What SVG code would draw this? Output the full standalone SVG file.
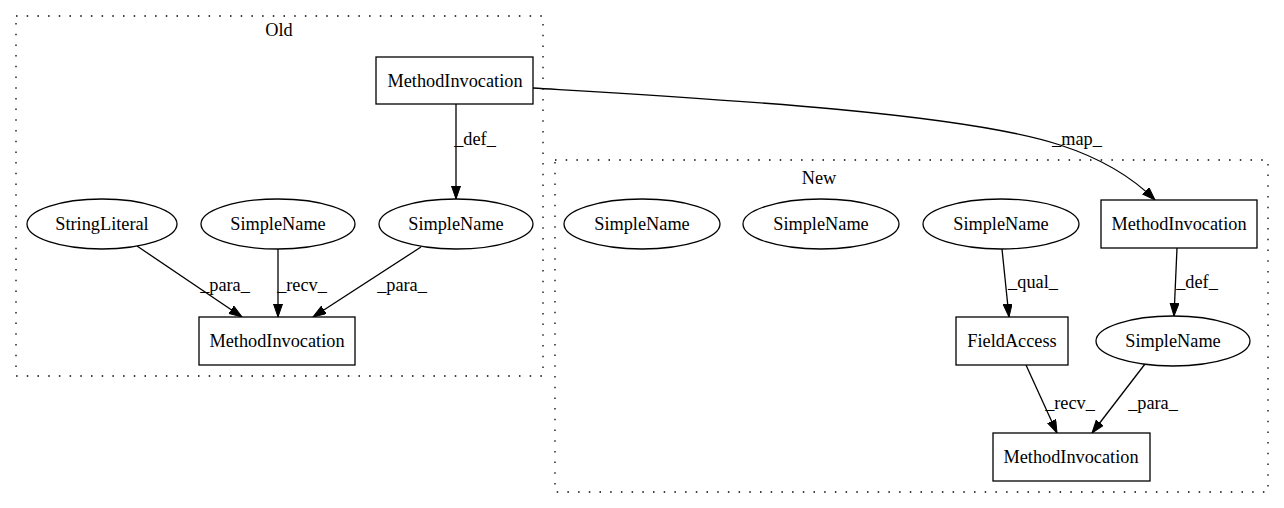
<svg xmlns="http://www.w3.org/2000/svg" width="1284" height="508" viewBox="0 0 1284 508">
<style>
text{font-family:"Liberation Serif","Times New Roman",serif;font-size:18.3px;fill:#000;text-anchor:middle}
.cl{fill:none;stroke:#000;stroke-width:1.3;stroke-dasharray:1.5,9.2}
.n{fill:#fff;stroke:#000;stroke-width:1.3}
.e{fill:none;stroke:#000;stroke-width:1.3;marker-end:url(#ah)}
</style>
<defs>
<marker id="ah" markerUnits="userSpaceOnUse" markerWidth="15" markerHeight="11" refX="13" refY="4.5" orient="auto">
<path d="M0,0 L13,4.5 L0,9 Z" fill="#000" stroke="#000" stroke-width="1"/>
</marker>
</defs>
<rect width="1284" height="508" fill="#fff"/>
<g id="cluster_old">
<rect class="cl" x="16" y="16" width="527" height="360"/>
<text x="279" y="36">Old</text>
</g>
<g id="cluster_new">
<rect class="cl" x="555" y="160" width="713" height="332"/>
<text x="819" y="184">New</text>
</g>
<g id="edges">
<path class="e" d="M533,88 C700,98 960,112 1060,145 C1100,158 1130,175 1155,200"/>
<text x="1077" y="145">_map_</text>
<path class="e" d="M456,104 L456,199"/>
<text x="475" y="145">_def_</text>
<path class="e" d="M137,246 L242,317"/>
<text x="225" y="291">_para_</text>
<path class="e" d="M278,249 L278,317"/>
<text x="302" y="291">_recv_</text>
<path class="e" d="M421,247 L313,317"/>
<text x="402" y="291">_para_</text>
<path class="e" d="M1002,249 L1009,317"/>
<text x="1033" y="288">_qual_</text>
<path class="e" d="M1177,248 L1174,316"/>
<text x="1197" y="288">_def_</text>
<path class="e" d="M1026,365 L1057,433"/>
<text x="1070" y="409">_recv_</text>
<path class="e" d="M1145,364 L1092,433"/>
<text x="1153" y="409">_para_</text>
</g>
<g id="old_mi_top"><rect class="n" x="376" y="57" width="157" height="47"/><text x="455" y="87">MethodInvocation</text></g>
<g id="old_sl"><ellipse class="n" cx="102" cy="224" rx="75" ry="25"/><text x="102" y="230">StringLiteral</text></g>
<g id="old_sn1"><ellipse class="n" cx="278" cy="224" rx="77" ry="25"/><text x="278" y="230">SimpleName</text></g>
<g id="old_sn2"><ellipse class="n" cx="456" cy="224" rx="77" ry="25"/><text x="456" y="230">SimpleName</text></g>
<g id="old_mi_bot"><rect class="n" x="199" y="317" width="156" height="48"/><text x="277" y="347">MethodInvocation</text></g>
<g id="new_sn1"><ellipse class="n" cx="642" cy="224" rx="78" ry="25"/><text x="642" y="230">SimpleName</text></g>
<g id="new_sn2"><ellipse class="n" cx="821" cy="224" rx="78" ry="25"/><text x="821" y="230">SimpleName</text></g>
<g id="new_sn3"><ellipse class="n" cx="1001" cy="224" rx="78" ry="25"/><text x="1001" y="230">SimpleName</text></g>
<g id="new_mi_top"><rect class="n" x="1101" y="200" width="156" height="48"/><text x="1179" y="230">MethodInvocation</text></g>
<g id="new_fa"><rect class="n" x="956" y="317" width="112" height="48"/><text x="1012" y="347">FieldAccess</text></g>
<g id="new_sn4"><ellipse class="n" cx="1173" cy="341" rx="77" ry="25"/><text x="1173" y="347">SimpleName</text></g>
<g id="new_mi_bot"><rect class="n" x="993" y="433" width="157" height="48"/><text x="1071" y="463">MethodInvocation</text></g>
</svg>
